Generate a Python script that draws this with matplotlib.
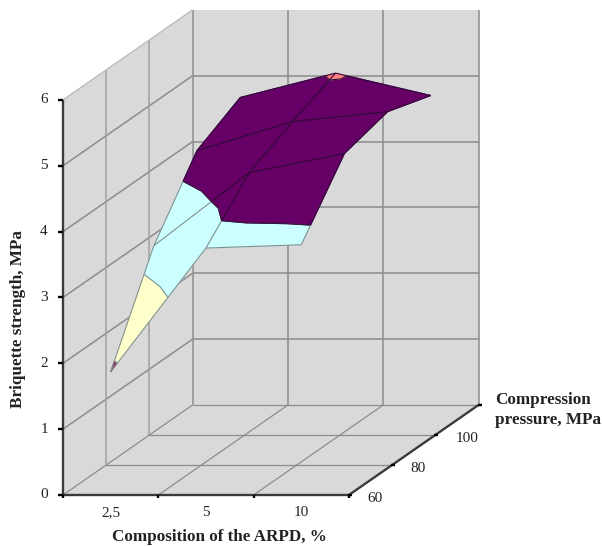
import matplotlib
matplotlib.use("Agg")
import matplotlib.pyplot as plt
from matplotlib.patches import Polygon

# Briquette strength (MPa): one row per compression pressure, one column per ARPD share
composition_labels = ["2,5", "5", "10"]
pressure_levels = [60, 80, 100, 120]
pressure_labels = ["60", "80", "100"]
strength = [
    [1.87, 3.75, 3.80],
    [3.33, 4.44, 4.73],
    [4.32, 4.76, 4.91],
    [4.67, 5.04, 4.70],
]
# Strength at the middle of each surface cell
cell_centres = [
    [3.45, 4.18],
    [4.30, 4.71],
    [4.70, 4.85],
]
strength_ticks = [0, 1, 2, 3, 4, 5, 6]
band_colors = {1: "#8E2A66", 2: "#FFFFCC", 3: "#CCFFFF", 4: "#660066", 5: "#FF8080"}

WALL = "#D9D9D9"
GRID = "#8C8C8C"
AXIS = "#3A3A3A"
SERIF = "Liberation Serif"

# Oblique projection of the chart box onto the page
ORIGIN = (63.0, 495.0)
UX, UD = 95.3, (43.2, -30.0)
UZ = 65.85


def project(a, d, z):
    return (ORIGIN[0] + UX * a + UD[0] * d, ORIGIN[1] + UD[1] * d - UZ * z)


def clip(poly, level, keep_above):
    """Clip a polygon of (a, d, z) vertices against a constant-z plane."""
    out = []
    n = len(poly)
    for i in range(n):
        p, q = poly[i], poly[(i + 1) % n]
        p_in = (p[2] >= level) if keep_above else (p[2] <= level)
        q_in = (q[2] >= level) if keep_above else (q[2] <= level)
        if p_in:
            out.append(p)
        if p_in != q_in:
            t = (level - p[2]) / (q[2] - p[2])
            out.append(tuple(p[k] + t * (q[k] - p[k]) for k in range(3)))
    return out


def split_segment(p, q):
    """Break a 3D segment wherever it crosses an integer strength level."""
    cuts = [0.0, 1.0]
    lo, hi = sorted((p[2], q[2]))
    for lev in range(1, 7):
        if lo < lev < hi:
            cuts.append((lev - p[2]) / (q[2] - p[2]))
    cuts.sort()
    pts = [tuple(p[k] + t * (q[k] - p[k]) for k in range(3)) for t in cuts]
    return list(zip(pts[:-1], pts[1:]))


def edge_color(zmid):
    return "#2E0A38" if zmid >= 4 else "#7F8F8F"


fig = plt.figure(figsize=(6.02, 5.46), dpi=100)
ax = fig.add_axes([0, 0, 1, 1])
ax.set_xlim(0, 602)
ax.set_ylim(546, 0)
ax.axis("off")

n_cat = len(composition_labels)
d_max = len(pressure_levels) - 1
z_max = strength_ticks[-1]

# Walls and floor of the chart box
ax.add_patch(Polygon([project(0, 0, 0), project(n_cat, 0, 0), project(n_cat, d_max, 0), project(0, d_max, 0)],
                     fc=WALL, ec="none", zorder=1))
ax.add_patch(Polygon([project(0, 0, 0), project(0, d_max, 0), project(0, d_max, z_max), project(0, 0, z_max)],
                     fc=WALL, ec="none", zorder=1))
ax.add_patch(Polygon([project(0, d_max, 0), project(n_cat, d_max, 0), project(n_cat, d_max, z_max), project(0, d_max, z_max)],
                     fc=WALL, ec="none", zorder=1))


def line3(p, q, **kw):
    a, b = project(*p), project(*q)
    ax.plot([a[0], b[0]], [a[1], b[1]], solid_capstyle="butt", **kw)


grid_kw = dict(color=GRID, lw=1.1, zorder=2)
floor_kw = dict(color=GRID, lw=0.9, zorder=2)
for z in strength_ticks[1:-1]:
    line3((0, 0, z), (0, d_max, z), **grid_kw)
    line3((0, d_max, z), (n_cat, d_max, z), **grid_kw)
for i in range(1, n_cat):
    line3((i, 0, 0), (i, d_max, 0), **floor_kw)
    line3((i, d_max, 0), (i, d_max, z_max), **grid_kw)
for d in range(1, d_max):
    line3((0, d, 0), (n_cat, d, 0), **floor_kw)
    line3((0, d, 0), (0, d, z_max), color="#A0A0A0", lw=1.1, zorder=2)
line3((0, d_max, 0), (0, d_max, z_max), **grid_kw)
line3((n_cat, d_max, 0), (n_cat, d_max, z_max), **grid_kw)
line3((0, d_max, 0), (n_cat, d_max, 0), **floor_kw)
line3((0, 0, 0), (0, d_max, 0), **floor_kw)
line3((0, 0, z_max), (0, d_max, z_max), color="#BDBDBD", lw=1.0, zorder=2)

# Surface: each grid cell is split into four triangles around its centre value
for j in range(d_max - 1, -1, -1):
    for i in range(n_cat - 1):
        corners = [
            (i + 0.5, j, strength[j][i]),
            (i + 1.5, j, strength[j][i + 1]),
            (i + 1.5, j + 1, strength[j + 1][i + 1]),
            (i + 0.5, j + 1, strength[j + 1][i]),
        ]
        centre = (i + 1.0, j + 0.5, cell_centres[j][i])
        for k in range(4):
            tri = [corners[k], corners[(k + 1) % 4], centre]
            for lev, col in band_colors.items():
                part = clip(clip(tri, lev, True), lev + 1, False)
                if len(part) >= 3:
                    ax.add_patch(Polygon([project(*v) for v in part], fc=col, ec=col, lw=0.7, zorder=3))
            # iso-strength boundaries between the coloured bands
            for lev in band_colors:
                pts = []
                for m in range(3):
                    p, q = tri[m], tri[(m + 1) % 3]
                    if (p[2] - lev) * (q[2] - lev) < 0:
                        t = (lev - p[2]) / (q[2] - p[2])
                        pts.append(tuple(p[c] + t * (q[c] - p[c]) for c in range(3)))
                if len(pts) == 2:
                    col = "#2E1A3A" if lev >= 4 else "#7F8F8F"
                    line3(pts[0], pts[1], color=col, lw=0.8, zorder=4)

# Mesh lines of the surface, darker over the purple band
for j in range(d_max + 1):
    for i in range(n_cat - 1):
        p = (i + 0.5, j, strength[j][i])
        q = (i + 1.5, j, strength[j][i + 1])
        for s, e in split_segment(p, q):
            line3(s, e, color=edge_color((s[2] + e[2]) / 2), lw=0.8, zorder=5)
for i in range(n_cat):
    for j in range(d_max):
        p = (i + 0.5, j, strength[j][i])
        q = (i + 0.5, j + 1, strength[j + 1][i])
        for s, e in split_segment(p, q):
            line3(s, e, color=edge_color((s[2] + e[2]) / 2), lw=0.8, zorder=5)

# Axis lines and tick marks
axis_kw = dict(color=AXIS, lw=1.7, zorder=6)
line3((0, 0, 0), (0, 0, z_max), **axis_kw)
line3((0, 0, 0), (n_cat, 0, 0), **axis_kw)
line3((n_cat, 0, 0), (n_cat, d_max, 0), **axis_kw)

tick_kw = dict(color="black", lw=1.7, zorder=7, solid_capstyle="butt")
label_kw = dict(family=SERIF, fontsize=11, color="#222222", ha="center", va="center")
for z in strength_ticks:
    x, y = project(0, 0, z)
    ax.plot([x - 5, x], [y, y], **tick_kw)
    ax.text(x - 19, y, str(z), **label_kw)
for i in range(n_cat + 1):
    x, y = project(i, 0, 0)
    ax.plot([x, x], [y, y + 3], **tick_kw)
for i, lab in enumerate(composition_labels):
    x, y = project(i + 0.5, 0, 0)
    ax.text(x, y + 18, lab, **label_kw)
for d in range(d_max + 1):
    x, y = project(n_cat, d, 0)
    ax.plot([x - 1, x + 3], [y, y], **tick_kw)
for d, lab in enumerate(pressure_labels):
    x, y = project(n_cat, d, 0)
    ax.text(x + 26 if d < 2 else x + 32, y + 3, lab, **label_kw)

# Axis titles
title_kw = dict(family=SERIF, fontsize=12.3, fontweight="bold", color="#222222")
ax.text(219, 537, "Composition of the ARPD, %", ha="center", va="center", **title_kw)
ax.text(18, 319, "Briquette strength, MPa", rotation=90, ha="center", va="center", **title_kw)
ax.text(495, 400, "Compression", ha="left", va="center", **title_kw)
ax.text(495, 420, "pressure, MPa", ha="left", va="center", **title_kw)

fig.savefig("out.png", dpi=100)
